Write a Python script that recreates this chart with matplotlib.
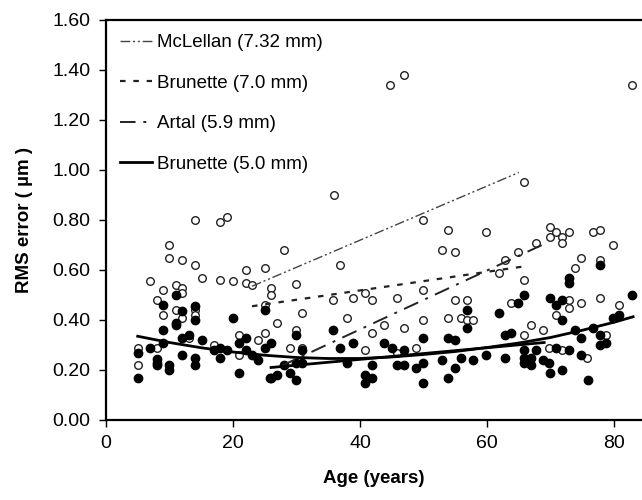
import matplotlib
matplotlib.use("Agg")
import matplotlib.pyplot as plt

plt.rcParams['font.family'] = ['Liberation Sans', 'DejaVu Sans']

# open circles (age, RMS error)
open_age = [5.0, 5.0, 6.9, 8.0, 8.0, 9.0, 9.0, 9.9, 9.9, 11.0, 11.0, 12.0, 12.0, 12.0, 12.0,
            13.1, 14.0, 14.0, 14.0, 14.0, 15.1, 17.0, 18.0, 19.0, 18.0, 20.0, 21.0, 21.0,
            22.0, 22.0, 23.0, 24.0, 25.0, 25.0, 25.0,
            26.0, 26.0, 26.9, 28.0, 29.0, 29.9, 29.9, 30.9, 30.9, 35.7, 35.9, 36.9, 37.9,
            38.9, 40.8, 40.8, 41.9, 41.9, 43.8, 44.8, 46.9, 45.8, 45.8, 46.9, 48.8, 49.9,
            49.9, 49.9,
            52.9, 53.9, 53.9, 54.9, 54.9, 55.9, 56.9, 56.9, 57.8, 59.8, 61.9, 62.8, 63.8,
            64.9, 65.8, 65.8, 65.8, 66.9, 67.7, 68.8, 69.8, 69.9, 69.9, 70.9, 70.9, 71.8,
            71.8, 71.8, 72.9, 72.9, 72.9, 73.9, 74.8, 74.8, 75.7, 76.7, 77.8, 77.8, 77.8,
            78.7, 79.8, 80.8, 82.8]
open_rms = [0.29, 0.22, 0.556, 0.48, 0.29, 0.52, 0.42, 0.70, 0.65, 0.54, 0.44, 0.64, 0.53, 0.51, 0.41,
            0.33, 0.80, 0.62, 0.44, 0.42, 0.57, 0.30, 0.79, 0.81, 0.56, 0.556, 0.34, 0.26,
            0.60, 0.55, 0.54, 0.32, 0.61, 0.35, 0.46,
            0.53, 0.50, 0.39, 0.68, 0.29, 0.545, 0.36, 0.43, 0.29, 0.48, 0.90, 0.62, 0.41,
            0.49, 0.51, 0.28, 0.48, 0.35, 0.38, 1.34, 1.38, 0.49, 0.27, 0.37, 0.29, 0.80,
            0.52, 0.40,
            0.68, 0.76, 0.41, 0.67, 0.48, 0.41, 0.48, 0.40, 0.40, 0.75, 0.59, 0.64, 0.47,
            0.67, 0.95, 0.56, 0.34, 0.38, 0.71, 0.36, 0.29, 0.77, 0.73, 0.75, 0.42, 0.73,
            0.71, 0.28, 0.75, 0.48, 0.45, 0.61, 0.65, 0.47, 0.25, 0.75, 0.76, 0.64, 0.49,
            0.34, 0.70, 0.46, 1.34]

# filled circles (age, RMS error)
fill_age = [5.0, 5.0, 6.9, 8.0, 8.0, 8.0, 9.0, 9.0, 9.0, 9.9, 9.9, 11.0, 11.0, 11.0, 12.0,
            12.0, 12.0, 13.1, 14.0, 14.0, 14.0, 14.0, 15.1, 17.0, 18.0, 18.0, 19.0, 20.0,
            21.0, 21.0, 22.0, 22.0, 23.0, 24.0, 25.0, 25.0, 25.8, 26.0, 26.0, 26.9, 28.0,
            29.0, 29.9, 29.9, 29.9, 30.9, 30.9,
            35.7, 36.9, 37.9, 38.9, 40.8, 40.8, 41.9, 41.9, 43.8, 45.0, 45.8, 46.9, 46.9,
            48.8, 49.9, 49.9, 49.9,
            52.9, 53.9, 53.9, 54.9, 54.9, 55.9, 56.9, 56.9, 57.8, 59.8, 61.9, 62.8, 62.8,
            63.8, 64.9, 65.8, 65.8, 65.8, 65.8, 66.9, 66.9, 67.7, 68.8, 69.8, 69.9, 69.9,
            70.9, 70.9, 71.8, 71.8, 71.8, 72.9, 72.9, 72.9, 73.9, 74.8, 74.8, 75.9, 76.7,
            77.8, 77.8, 77.8, 78.7, 79.8, 80.8, 82.8]
fill_rms = [0.27, 0.17, 0.29, 0.245, 0.23, 0.22, 0.46, 0.36, 0.31, 0.22, 0.20, 0.50, 0.39, 0.38, 0.436,
            0.33, 0.26, 0.34, 0.456, 0.40, 0.25, 0.22, 0.32, 0.28, 0.29, 0.25, 0.28, 0.41,
            0.31, 0.19, 0.33, 0.28, 0.26, 0.24, 0.44, 0.29, 0.17, 0.31, 0.17, 0.18, 0.22,
            0.19, 0.34, 0.23, 0.16, 0.28, 0.23,
            0.36, 0.29, 0.23, 0.31, 0.18, 0.15, 0.22, 0.17, 0.31, 0.29, 0.22, 0.28, 0.22,
            0.21, 0.33, 0.23, 0.15,
            0.24, 0.33, 0.17, 0.32, 0.21, 0.25, 0.44, 0.37, 0.24, 0.26, 0.43, 0.34, 0.25,
            0.35, 0.47, 0.50, 0.28, 0.25, 0.23, 0.25, 0.22, 0.28, 0.24, 0.23, 0.49, 0.19,
            0.46, 0.29, 0.48, 0.40, 0.20, 0.57, 0.55, 0.28, 0.36, 0.33, 0.26, 0.16, 0.37,
            0.62, 0.34, 0.30, 0.31, 0.41, 0.42, 0.50]

# trend lines
mclellan_age = [23.0, 65.0]
mclellan_rms = [0.535, 0.99]
brun7_age = [23.0, 66.0]
brun7_rms = [0.455, 0.615]
artal_age = [27.5, 69.5]
artal_rms = [0.215, 0.71]
brun5_age = [5, 10, 15, 20, 25, 30, 35, 40, 45, 50, 55, 60, 65, 70, 75, 80, 83]
brun5_rms = [0.335, 0.310, 0.289, 0.272, 0.259, 0.250, 0.246, 0.246, 0.252, 0.262,
             0.274, 0.290, 0.308, 0.330, 0.359, 0.391, 0.413]
other_age = [26.0, 69.0]
other_rms = [0.21, 0.31]

fig = plt.figure(figsize=(6.42, 5.0), dpi=100)
ax = fig.add_axes([0.165, 0.16, 0.835, 0.80])

ax.scatter(open_age, open_rms, s=30, facecolors='white', edgecolors='#222222',
           linewidths=1.0, zorder=2)
ax.scatter(fill_age, fill_rms, s=36, color='black', zorder=3)

ax.plot(mclellan_age, mclellan_rms, color='#444444', lw=1.0,
        dashes=(7, 2, 1.5, 2, 1.5, 2), label='McLellan (7.32 mm)', zorder=4)
ax.plot(brun7_age, brun7_rms, color='#222222', lw=1.6,
        dashes=(2.5, 3.5), label='Brunette (7.0 mm)', zorder=4)
ax.plot(artal_age, artal_rms, color='#222222', lw=1.4,
        dashes=(8, 4, 1.5, 4), label='Artal (5.9 mm)', zorder=4)
ax.plot(brun5_age, brun5_rms, color='black', lw=2.0, label='Brunette (5.0 mm)', zorder=4)
ax.plot(other_age, other_rms, color='black', lw=2.0, zorder=4)

ax.set_xlim(0, 84.4)
ax.set_ylim(0, 1.6)
ax.set_xticks([0, 20, 40, 60, 80])
ax.set_yticks([0.0, 0.2, 0.4, 0.6, 0.8, 1.0, 1.2, 1.4, 1.6])
ax.set_yticklabels(['%.2f' % v for v in ax.get_yticks()])
ax.tick_params(labelsize=14, length=5, width=1, direction='out', pad=6)
ax.spines['right'].set_visible(False)
for s in ['left', 'bottom', 'top']:
    ax.spines[s].set_linewidth(1.6)

ax.set_xlabel('Age (years)', fontsize=13.5, fontweight='bold', labelpad=13)
ax.set_ylabel('RMS error ( µm )', fontsize=13.5, fontweight='bold', labelpad=14)

ax.legend(loc='upper left', frameon=False, fontsize=13.5, handlelength=1.7,
          handletextpad=0.3, labelspacing=1.25, borderaxespad=0.35,
          bbox_to_anchor=(0.0, 1.0))

fig.savefig('out.png', dpi=100)
